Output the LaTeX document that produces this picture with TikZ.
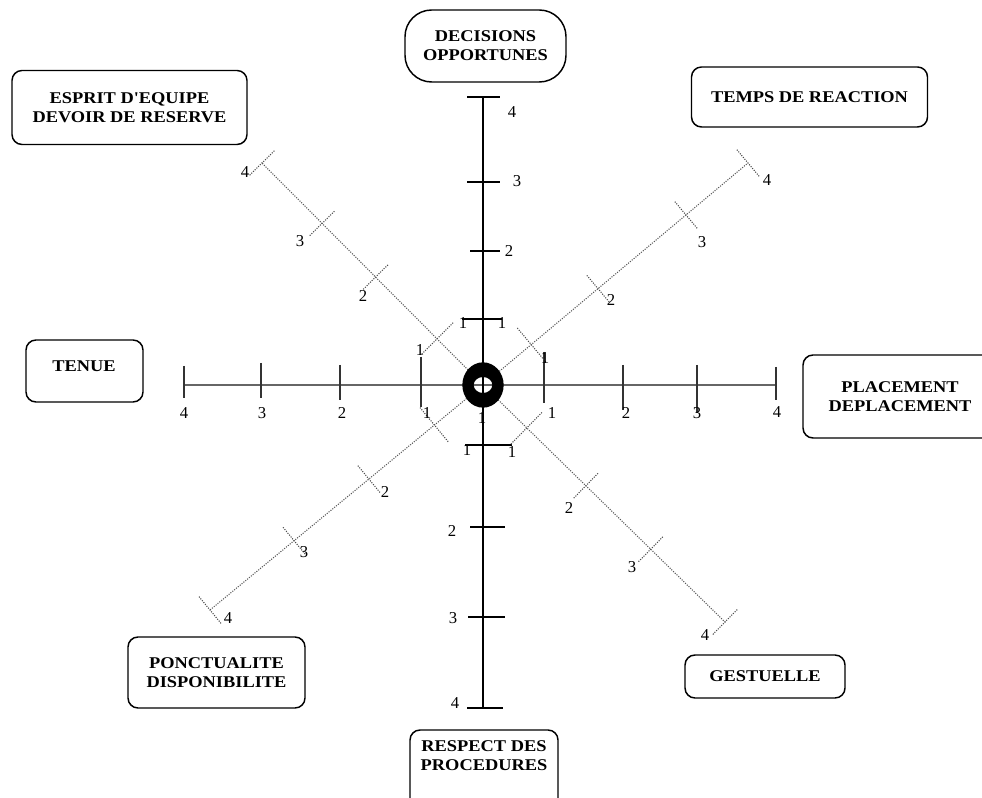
\documentclass[tikz,border=0pt]{standalone}
\usepackage{fontspec}
\setmainfont{Liberation Serif}
\newfontfamily\boxfont{Liberation Serif}[FakeStretch=1.12]
\usetikzlibrary{calc}
\begin{document}
\begin{tikzpicture}[x=0.75pt,y=-0.75pt,
  card/.style={draw=black, line width=1.1pt, rounded corners=7.5pt, inner sep=0pt,
    align=center, font=\boxfont\bfseries\fontsize{12.3}{14.3}\selectfont},
  cardtext/.style={inner sep=0pt, align=center, font=\boxfont\bfseries\fontsize{12.3}{14.3}\selectfont},
  num/.style={inner sep=0pt, font=\fontsize{12.5}{13}\selectfont},
  vaxis/.style={line width=1.1pt, black},
  haxis/.style={line width=0.9pt, black!60},
  diag/.style={line width=0.8pt, black!65, densely dotted},
  axtick/.style={line width=0.9pt, black},
  dtick/.style={line width=0.8pt, black!70, densely dotted},
]
\clip (0,0) rectangle (982,798);
\fill[white] (0,0) rectangle (982,798);

% centre and the ends of the eight axes
\coordinate (c) at (483,385);
\coordinate (top) at (483,97);
\coordinate (bot) at (483,708);
\coordinate (lft) at (184,385);
\coordinate (rgt) at (776,385);
\coordinate (nw) at (262,163);
\coordinate (ne) at (748,163);
\coordinate (sw) at (210,610);
\coordinate (se) at (725,622);

% boxes with the criteria
\node[card, rounded corners=20pt, minimum width=161*0.75pt, minimum height=72*0.75pt] (dec) at (485.5,46) {DECISIONS\\OPPORTUNES};
\node[card, minimum width=235*0.75pt, minimum height=74*0.75pt] (esp) at (129.5,107.5) {ESPRIT D'EQUIPE\\DEVOIR DE RESERVE};
\node[card, minimum width=236*0.75pt, minimum height=60*0.75pt] (tmp) at (809.5,97) {TEMPS DE REACTION};
\node[card, minimum width=117*0.75pt, minimum height=62*0.75pt] (ten) at (84.5,371) {};
\node[cardtext] (tenT) at (84,366) {TENUE};
\node[card, minimum width=194*0.75pt, minimum height=83*0.75pt] (pla) at (900,396.5) {PLACEMENT\\DEPLACEMENT};
\node[card, minimum width=177*0.75pt, minimum height=71*0.75pt] (pon) at (216.5,672.5) {PONCTUALITE\\DISPONIBILITE};
\node[card, minimum width=148*0.75pt, minimum height=90*0.75pt] (resbox) at (484,775) {};
\node[cardtext] (res) at (484,756) {RESPECT DES\\PROCEDURES};
\node[card, minimum width=160*0.75pt, minimum height=43*0.75pt] (ges) at (765,676.5) {GESTUELLE};

% axes
\draw[haxis] (lft) -- (rgt);
\foreach \e in {nw,ne,sw,se}
  \draw[diag] ($(c)!16pt!(\e)$) -- (\e);
\draw[vaxis] (top) -- (bot);

% ticks of the vertical axis
\foreach \y/\a/\b in {97/467/500, 182/467/500, 251/470/500, 319/462/502,
                      445/465/512, 527/470/505, 617/468/505, 708/467/503}
  \draw[axtick] (\a,\y) -- (\b,\y);

% ticks of the horizontal axis
\foreach \x/\a/\b in {184/366/398, 261/363/398, 340/365/400, 421/357/407,
                      544/352/403, 623/365/410, 697/365/413, 776/367/400}
  \draw[axtick, black!80] (\x,\a) -- (\x,\b);

% ticks of the diagonal axes
\foreach \e/\fa/\fb/\fc in {nw/0.208/0.486/0.728, ne/0.182/0.434/0.766,
                            sw/0.178/0.418/0.692, se/0.181/0.425/0.693} {
  \foreach \f/\h in {\fa/17pt, \fb/13pt, \fc/13pt, 1/13pt} {
    \coordinate (p) at ($(c)!\f!(\e)$);
    \draw[dtick] ($(p)!\h!90:(c)$) -- ($(p)!\h!-90:(c)$);
  }
}

% central ring
\fill[black, even odd rule] (c) ellipse [x radius=15.5pt, y radius=17pt]
                            (483,385) ellipse [x radius=7pt, y radius=6pt];

% graduations
\foreach \x/\y/\t in {
    184/413/4, 262/413/3, 342/413/2, 427/413/1,
    552/413/1, 626/413/2, 697/413/3, 777/412/4,
    420/350/1, 545/358/1, 463/323/1, 502/323/1,
    467/450/1, 512/452/1, 482/418/1,
    512/112/4, 517/181/3, 509/251/2,
    452/531/2, 453/618/3, 455/703/4,
    245/172/4, 300/241/3, 363/296/2,
    611/300/2, 702/242/3, 767/180/4,
    385/492/2, 304/552/3, 228/618/4,
    569/508/2, 632/567/3, 705/635/4}
  \node[num] at (\x,\y) {\t};
\end{tikzpicture}
\end{document}
